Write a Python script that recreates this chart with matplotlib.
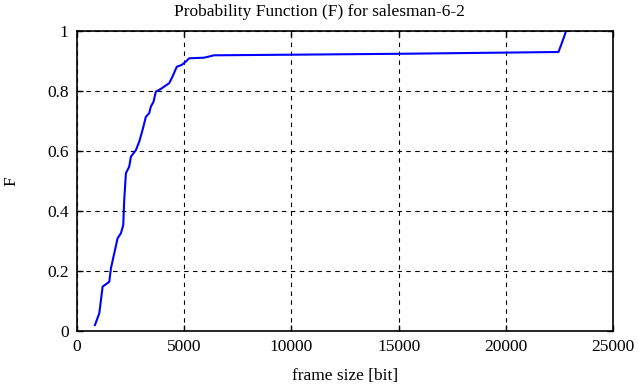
import numpy as np
import matplotlib.pyplot as plt
from matplotlib.ticker import FuncFormatter

plt.rcParams['font.family'] = ['Liberation Serif', 'DejaVu Serif']

# ============= data =============
frame_size = [838, 1040, 1195, 1505, 1583, 1738, 1893, 2048, 2157, 2203, 2281,
              2436, 2514, 2747, 2902, 3057, 3212, 3367, 3445, 3569, 3678, 3911,
              4299, 4454, 4655, 4888, 5075, 5230, 5928, 6393, 10000, 15000,
              22455, 22610, 22765, 22800]
prob_F = [0.02, 0.059, 0.148, 0.164, 0.209, 0.259, 0.309, 0.326, 0.353, 0.437,
          0.526, 0.548, 0.581, 0.603, 0.631, 0.67, 0.714, 0.726, 0.748, 0.764,
          0.798, 0.807, 0.826, 0.848, 0.881, 0.887, 0.898, 0.909, 0.911, 0.919,
          0.921, 0.924, 0.93, 0.959, 0.99, 1.0]

x_ticks = [0, 5000, 10000, 15000, 20000, 25000]
y_ticks = [0, 0.2, 0.4, 0.6, 0.8, 1.0]

# ============= plotting =============
fig = plt.figure(figsize=(6.39, 3.87), dpi=100)
ax = fig.add_axes([77 / 639, 56 / 387, 536 / 639, 300 / 387])

ax.plot(frame_size, prob_F, color='#0000ff', linewidth=1.5)

ax.set_xlim(0, 25000)
ax.set_ylim(0, 1)
ax.set_xticks(x_ticks)
ax.set_yticks(y_ticks)
ax.yaxis.set_major_formatter(FuncFormatter(lambda v, p: '%g' % v))
ax.grid(True, color='black', linestyle=(0, (4, 4)), linewidth=0.8)
ax.tick_params(direction='in', length=4, width=1, top=True, right=True,
               labelsize=12.5, pad=6)
for s in ax.spines.values():
    s.set_linewidth(1.2)

# gnuplot centres the title on the whole canvas, not the plot box
ax.set_title("Probability Function (F) for salesman-6-2", fontsize=12.5,
             pad=11, x=(319.5 - 77) / 536)
ax.set_xlabel("frame size [bit]", fontsize=12.5, labelpad=9)
ax.set_ylabel("F", fontsize=12.5, labelpad=20)

fig.savefig('out.png', dpi=100)
